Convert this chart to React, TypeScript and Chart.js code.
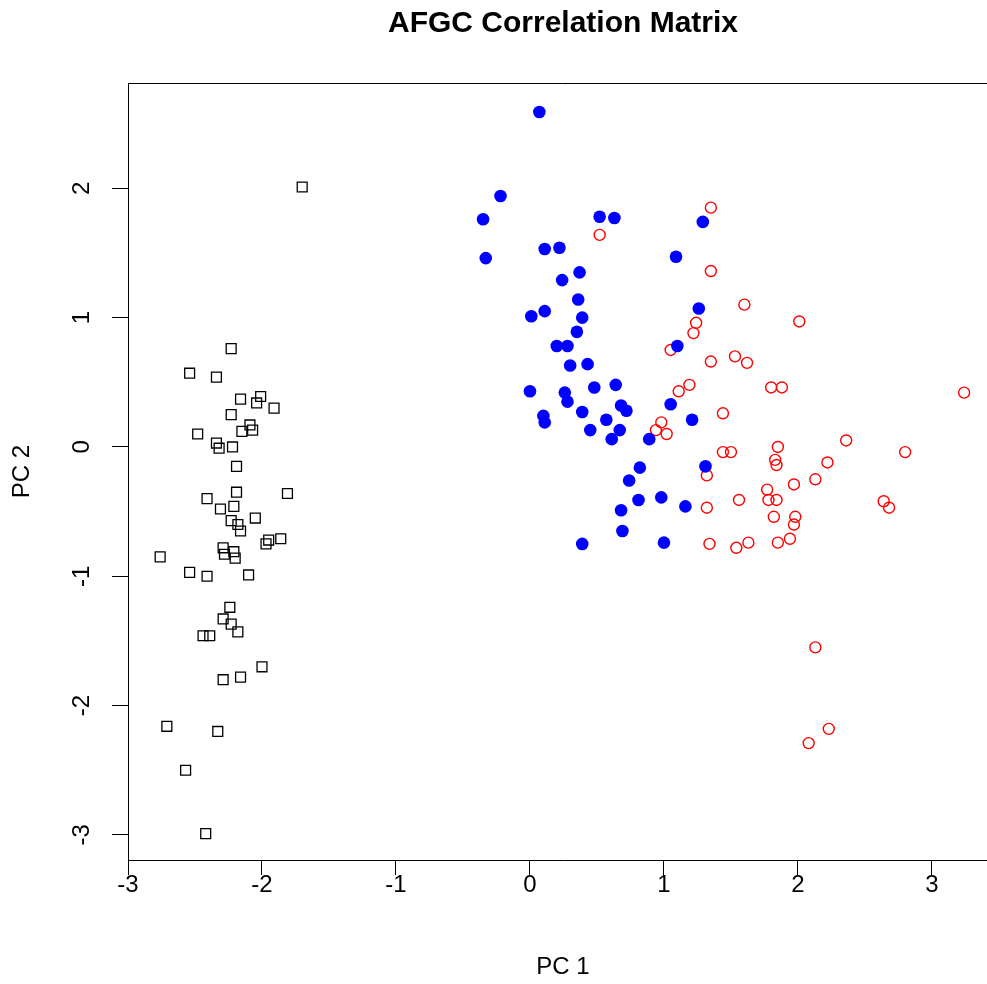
import React, { useEffect, useRef } from "react";
import Chart from "chart.js/auto";

const chartTitle = "AFGC Correlation Matrix";
const xAxisTitle = "PC 1";
const yAxisTitle = "PC 2";

const squaresX = [-1.70, -2.23, -2.54, -2.34, -2.16, -2.01, -2.04, -1.91, -2.23, -2.09, -2.07, -2.15, -2.48, -2.34, -2.32, -2.22, -2.19, -2.19, -2.41, -1.81, -2.31, -2.21, -2.05, -2.23, -2.18, -2.16, -1.86, -1.95, -1.97, -2.29, -2.28, -2.21, -2.20, -2.76, -2.54, -2.41, -2.10, -2.24, -2.29, -2.23, -2.18, -2.44, -2.39, -2.00, -2.29, -2.16, -2.71, -2.33, -2.57, -2.42];
const squaresY = [2.01, 0.76, 0.57, 0.54, 0.37, 0.39, 0.34, 0.30, 0.25, 0.17, 0.13, 0.12, 0.10, 0.03, -0.01, 0.00, -0.15, -0.35, -0.40, -0.36, -0.48, -0.46, -0.55, -0.57, -0.60, -0.65, -0.71, -0.72, -0.75, -0.78, -0.83, -0.81, -0.86, -0.85, -0.97, -1.00, -0.99, -1.24, -1.33, -1.37, -1.43, -1.46, -1.46, -1.70, -1.80, -1.78, -2.16, -2.20, -2.50, -2.99];

const filledX = [0.07, -0.22, -0.35, 0.52, 0.63, 1.29, -0.33, 0.11, 0.22, 1.09, 0.37, 0.24, 0.36, 1.26, 0.01, 0.11, 0.39, 0.35, 0.20, 0.28, 1.10, 0.30, 0.43, 0.00, 0.26, 0.28, 0.48, 0.64, 0.39, 0.68, 0.72, 0.57, 1.05, 1.21, 0.10, 0.11, 0.45, 0.67, 0.61, 0.89, 0.82, 1.31, 0.74, 0.81, 0.98, 1.16, 0.68, 0.69, 1.00, 0.39];
const filledY = [2.59, 1.94, 1.76, 1.78, 1.77, 1.74, 1.46, 1.53, 1.54, 1.47, 1.35, 1.29, 1.14, 1.07, 1.01, 1.05, 1.00, 0.89, 0.78, 0.78, 0.78, 0.63, 0.64, 0.43, 0.42, 0.35, 0.46, 0.48, 0.27, 0.32, 0.28, 0.21, 0.33, 0.21, 0.24, 0.19, 0.13, 0.13, 0.06, 0.06, -0.16, -0.15, -0.26, -0.41, -0.39, -0.46, -0.49, -0.65, -0.74, -0.75];

const openX = [1.35, 0.52, 1.35, 1.60, 2.01, 1.24, 1.22, 1.05, 1.35, 1.53, 1.62, 1.80, 1.88, 1.11, 1.19, 1.44, 0.98, 0.94, 1.02, 1.44, 1.50, 1.85, 1.83, 1.84, 1.32, 3.24, 2.36, 2.80, 2.22, 2.13, 1.97, 1.77, 1.78, 1.84, 1.56, 2.64, 2.68, 1.32, 1.82, 1.98, 1.97, 1.34, 1.54, 1.63, 1.85, 1.94, 2.13, 2.23, 2.08];
const openY = [1.85, 1.64, 1.36, 1.10, 0.97, 0.96, 0.88, 0.75, 0.66, 0.70, 0.65, 0.46, 0.46, 0.43, 0.48, 0.26, 0.19, 0.13, 0.10, -0.04, -0.04, 0.00, -0.10, -0.14, -0.22, 0.42, 0.05, -0.04, -0.12, -0.25, -0.29, -0.33, -0.41, -0.41, -0.41, -0.42, -0.47, -0.47, -0.54, -0.54, -0.60, -0.75, -0.78, -0.74, -0.74, -0.71, -1.55, -2.18, -2.29];

const xRange = [-3, 3.493];
const yRange = [-3.194, 2.814];

const FONT = "'Liberation Sans', Arial, Helvetica, sans-serif";

const pts = (xs: number[], ys: number[]) => xs.map((x, i) => ({ x, y: ys[i] }));

const framePlugin = {
  id: "frame",
  afterDraw(chart: any) {
    const { ctx, chartArea } = chart;
    ctx.save();
    ctx.strokeStyle = "#000";
    ctx.lineWidth = 1;
    ctx.beginPath();
    const t = Math.round(chartArea.top) + 0.5;
    const r = Math.round(chartArea.right) - 0.5;
    ctx.moveTo(chartArea.left, t);
    ctx.lineTo(r, t);
    ctx.lineTo(r, chartArea.bottom);
    ctx.stroke();
    ctx.restore();
  },
};

export default function App() {
  const ref = useRef<HTMLCanvasElement | null>(null);
  useEffect(() => {
    if (!ref.current) return;
    const chart = new Chart(ref.current, {
      type: "scatter",
      data: {
        datasets: [
          {
            data: pts(squaresX, squaresY),
            pointStyle: "rect",
            radius: 7,
            hoverRadius: 7,
            borderWidth: 1.3,
            borderColor: "#000000",
            backgroundColor: "rgba(0,0,0,0)",
          },
          {
            data: pts(filledX, filledY),
            pointStyle: "circle",
            radius: 6.3,
            hoverRadius: 6.3,
            borderWidth: 0,
            borderColor: "#0000ff",
            backgroundColor: "#0000ff",
          },
          {
            data: pts(openX, openY),
            pointStyle: "circle",
            radius: 5.5,
            hoverRadius: 5.5,
            borderWidth: 1.4,
            borderColor: "#ff0000",
            backgroundColor: "rgba(0,0,0,0)",
          },
        ],
      },
      options: {
        animation: false,
        responsive: false,
        devicePixelRatio: 1,
        layout: { padding: 0, autoPadding: false },
        plugins: {
          legend: { display: false },
          tooltip: { enabled: false },
          title: {
            display: true,
            text: chartTitle,
            fullSize: false,
            color: "#000",
            font: { family: FONT, size: 30, weight: "bold", lineHeight: 1.2 },
            padding: { top: 6, bottom: 41 },
          },
        },
        scales: {
          x: {
            type: "linear",
            min: xRange[0],
            max: xRange[1],
            afterFit: (s: any) => {
              s.height = 124;
              s.paddingLeft = 0;
              s.paddingRight = 0;
            },
            border: { display: true, color: "#000", width: 1 },
            grid: {
              display: true,
              drawOnChartArea: false,
              drawTicks: true,
              tickLength: 15,
              tickColor: "#000",
              tickWidth: 1,
            },
            ticks: {
              stepSize: 1,
              includeBounds: false,
              color: "#000",
              padding: -4.4,
              maxRotation: 0,
              minRotation: 0,
              font: { family: FONT, size: 24, lineHeight: 1.2 },
            },
            title: {
              display: true,
              text: xAxisTitle,
              color: "#000",
              font: { family: FONT, size: 24, lineHeight: 1.2 },
              padding: { top: 2.6, bottom: 2.6 },
            },
          },
          y: {
            type: "linear",
            min: yRange[0],
            max: yRange[1],
            afterFit: (s: any) => {
              s.width = 128;
              s.paddingTop = 0;
              s.paddingBottom = 0;
              s.paddingLeft = 0;
              s.paddingRight = 0;
            },
            border: { display: true, color: "#000", width: 1 },
            grid: {
              display: true,
              drawOnChartArea: false,
              drawTicks: true,
              tickLength: 16,
              tickColor: "#000",
              tickWidth: 1,
            },
            ticks: {
              stepSize: 1,
              includeBounds: false,
              color: "#000",
              minRotation: 90,
              maxRotation: 90,
              crossAlign: "center",
              padding: 18.5,
              font: { family: FONT, size: 24, lineHeight: 1.2 },
            },
            title: {
              display: true,
              text: yAxisTitle,
              color: "#000",
              font: { family: FONT, size: 24, lineHeight: 1.2 },
              padding: { top: 8, bottom: 8 },
            },
          },
        },
      },
      plugins: [framePlugin],
    } as any);
    return () => chart.destroy();
  }, []);

  return (
    <div
      style={{
        position: "fixed",
        left: 0,
        top: 0,
        width: 987,
        height: 984,
        overflow: "hidden",
        background: "#fff",
      }}
    >
      <canvas ref={ref} width={998} height={984} style={{ width: 998, height: 984, display: "block" }} />
    </div>
  );
}
